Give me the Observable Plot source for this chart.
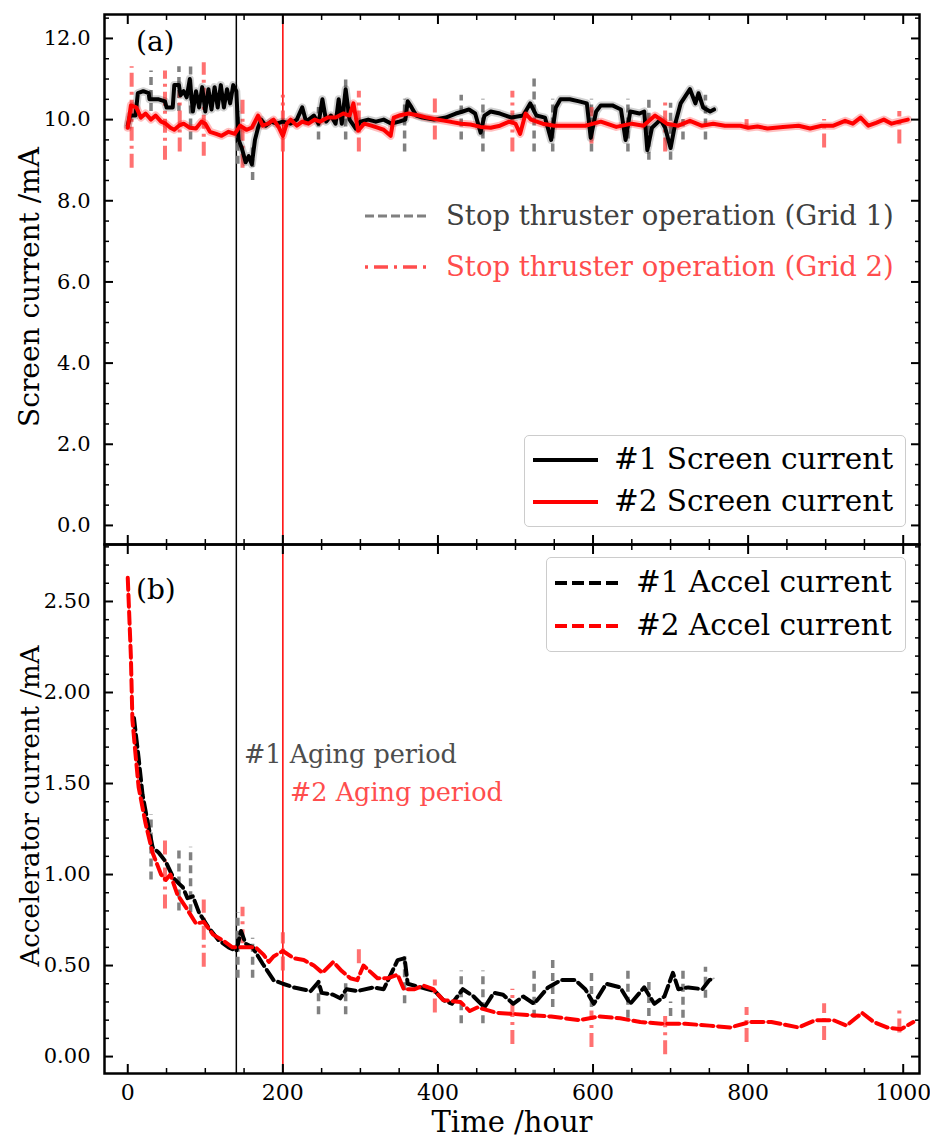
<!DOCTYPE html>
<html><head><meta charset="utf-8">
<script src="https://cdn.jsdelivr.net/npm/d3@7"></script>
<script src="https://cdn.jsdelivr.net/npm/@observablehq/plot@0.6"></script>
<style>
body{margin:0;background:#fff;font-family:"DejaVu Serif",serif;}
#wrap{position:relative;width:930px;height:1137px;overflow:hidden;}
.abs{position:absolute;white-space:nowrap;line-height:1;}
.c{transform:translate(0,-50%);}
.rot{transform:translate(-50%,-50%) rotate(-90deg);}
.box{position:absolute;border:1px solid #cccccc;border-radius:5px;background:rgba(255,255,255,0.85);box-sizing:border-box;}
svg.samp{position:absolute;overflow:visible;}
</style></head><body><div id="wrap"></div>
<script>
// ---------------- data (hours, mA) ----------------
const screen1Time  = [0,3,10,13,20,27,28,40,48,50,58,60,66,68,72,76,80,84,88,92,96,100,104,108,112,116,120,124,128,132,136,140,143,147,152,156,160,164,168,172,178,185,192,200,210,218,225,230,240,246,251,256,262,268,272,276,281,286,294,300,310,320,330,340,350,358,361,366,372,380,395,410,423,432,440,448,455,460,468,480,495,510,519,527,538,546,552,558,570,582,592,597,604,610,625,636,642,648,660,666,670,676,687,693,700,706,713,725,732,736,742,751,756];
const screen1Value = [9.85,10.1,10.1,10.65,10.7,10.65,10.5,10.5,10.45,10.3,10.3,10.85,10.85,10.6,10.7,10.55,11.0,10.2,10.7,10.3,10.8,10.2,10.75,10.25,10.8,10.3,10.85,10.3,10.75,10.4,10.85,10.7,9.5,9.3,8.95,9.1,8.9,9.5,9.8,10.0,9.85,9.95,9.9,9.95,9.9,10.0,10.3,9.95,10.1,9.9,10.5,9.95,10.1,9.9,10.5,9.9,10.75,10.0,9.78,9.95,10.0,9.95,10.0,9.9,9.95,10.0,10.45,10.3,10.1,10.05,10.0,10.05,10.15,10.2,10.25,10.15,9.68,10.1,10.2,10.15,10.05,10.1,10.4,10.1,10.05,9.5,10.3,10.5,10.5,10.45,10.4,9.55,10.2,10.35,10.35,10.25,9.5,10.2,10.15,10.2,9.25,9.8,10.0,9.8,9.3,9.9,10.4,10.75,10.4,10.65,10.3,10.2,10.25];

const screen2Time  = [0,4,11,17,23,30,36,43,49,55,60,66,72,80,88,95,100,106,114,121,130,138,145,153,160,168,174,181,188,195,200,205,210,218,225,233,241,248,258,268,278,286,291,297,305,314,322,330,339,343,350,362,375,386,400,415,430,442,455,468,480,492,500,506,513,520,535,550,570,590,610,630,650,665,680,695,710,725,740,755,770,790,800,812,825,845,865,880,895,910,925,935,945,955,965,975,985,995,1006];
const screen2Value = [9.8,10.35,10.3,10.05,10.15,10.0,10.1,9.95,9.9,9.8,9.75,9.85,9.9,9.8,9.78,9.95,9.9,9.7,9.65,9.6,9.7,9.65,9.85,9.75,9.8,10.1,9.85,9.9,10.0,9.8,9.6,9.9,10.0,9.85,9.95,9.9,10.0,9.95,10.05,10.05,10.15,10.1,10.4,9.73,9.9,9.85,9.8,9.75,9.6,10.05,10.1,10.15,10.1,10.05,10.0,9.95,9.9,9.88,9.82,9.8,9.85,9.95,9.9,9.65,10.15,10.0,9.9,9.85,9.85,9.85,9.95,9.82,9.9,9.85,10.1,9.9,9.85,9.97,9.85,9.9,9.85,9.85,9.8,9.83,9.78,9.82,9.85,9.78,9.85,9.85,9.97,9.9,10.05,9.85,9.92,10.0,9.9,9.95,10.0];

const accel1Time  = [8,14,19,26,32,40,49,59,66,71,77,84,92,104,117,130,140,146,152,161,174,188,200,214,236,246,250,265,274,282,296,317,330,348,357,361,378,396,407,418,432,446,460,472,484,497,510,524,542,559,577,590,601,617,635,648,666,679,692,703,710,723,741,750,756];
const accel1Value = [1.86,1.64,1.44,1.28,1.15,1.12,1.07,0.98,0.95,0.93,0.87,0.88,0.79,0.71,0.64,0.60,0.58,0.69,0.62,0.60,0.51,0.42,0.40,0.38,0.36,0.41,0.35,0.34,0.32,0.37,0.36,0.38,0.37,0.53,0.54,0.40,0.38,0.36,0.31,0.29,0.37,0.33,0.27,0.35,0.34,0.29,0.33,0.29,0.38,0.42,0.42,0.37,0.29,0.40,0.38,0.29,0.38,0.29,0.33,0.46,0.37,0.38,0.37,0.42,0.43];

const accel2Time  = [0,4,6,10,14,23,32,43,49,55,64,75,88,98,110,122,135,148,165,175,182,188,200,214,227,240,251,265,276,287,296,304,322,335,348,356,370,381,394,407,429,441,451,476,511,546,582,608,635,661,688,719,750,777,803,830,865,887,910,927,947,962,979,997,1013];
const accel2Value = [2.63,2.2,1.85,1.66,1.48,1.28,1.12,1.0,0.97,1.0,0.89,0.82,0.73,0.74,0.67,0.64,0.60,0.60,0.60,0.56,0.52,0.55,0.58,0.54,0.53,0.50,0.46,0.52,0.47,0.43,0.42,0.50,0.43,0.43,0.45,0.37,0.37,0.39,0.37,0.31,0.30,0.25,0.27,0.24,0.23,0.22,0.20,0.22,0.21,0.19,0.18,0.18,0.17,0.16,0.19,0.19,0.16,0.20,0.20,0.17,0.24,0.19,0.16,0.15,0.19];

// stop-operation events (grid 1 / grid 2): time, screen low/high, accel low/high
const stop1Time     = [30,66,81,142,161,246,281,357,430,458,524,548,598,645,672,700,716,745];
const stop1ScreenLo = [10.2,10.2,9.5,8.9,8.5,9.5,9.5,9.2,9.5,9.2,9.2,9.2,9.2,9.2,9.0,9.0,9.5,9.5];
const stop1ScreenHi = [11.2,11.3,11.3,10.2,9.3,10.3,11.0,10.5,10.6,10.5,11.0,10.5,10.5,10.5,10.5,10.4,10.0,10.6];
const stop1AccelLo  = [0.97,0.80,0.79,0.43,0.43,0.23,0.23,0.29,0.18,0.18,0.21,0.27,0.27,0.21,0.22,0.22,0.21,0.32];
const stop1AccelHi  = [1.33,1.15,1.15,0.79,0.65,0.43,0.40,0.55,0.47,0.47,0.47,0.55,0.47,0.47,0.41,0.30,0.47,0.49];

const stop2Time     = [5,48,67,98,148,200,298,396,496,598,693,798,898,995];
const stop2ScreenLo = [8.8,9.0,9.2,9.1,8.8,9.2,9.2,9.5,9.2,9.4,9.2,9.8,9.3,9.4];
const stop2ScreenHi = [11.3,11.2,10.7,11.4,10.55,10.6,10.7,10.55,10.7,10.3,10.5,10.0,10.0,10.2];
const stop2AccelLo  = [null,0.81,null,0.49,0.62,0.47,0.51,0.24,0.066,0.05,0.01,0.077,0.088,0.13];
const stop2AccelHi  = [null,1.20,null,0.86,0.82,0.68,0.60,0.42,0.37,0.25,0.22,0.27,0.29,0.25];

const agingStart = [140, 200];   // #1, #2 aging period boundaries (hours)

// ticks
const xMajor = [0,200,400,600,800,1000];
const xMinor = [50,100,150,250,300,350,450,500,550,650,700,750,850,900,950];
const aMajor = [0,2,4,6,8,10,12];
const aMinor = [0.5,1,1.5,2.5,3,3.5,4.5,5,5.5,6.5,7,7.5,8.5,9,9.5,10.5,11,11.5,12.5];
const bMajor = [0,0.5,1,1.5,2,2.5];
const bMinor = [0.1,0.2,0.3,0.4,0.6,0.7,0.8,0.9,1.1,1.2,1.3,1.4,1.6,1.7,1.8,1.9,2.1,2.2,2.3,2.4,2.6,2.7,2.8];

// ---------------- build ----------------
const zip = (t, v) => t.map((d, i) => ({t: d, v: v[i]}));
const screen1 = zip(screen1Time, screen1Value);
const screen2 = zip(screen2Time, screen2Value);
const accel1 = zip(accel1Time, accel1Value);
const accel2 = zip(accel2Time, accel2Value);
const stop1 = stop1Time.map((t, i) => ({t, a0: stop1ScreenLo[i], a1: stop1ScreenHi[i], b0: stop1AccelLo[i], b1: stop1AccelHi[i]}));
const stop2 = stop2Time.map((t, i) => ({t, a0: stop2ScreenLo[i], a1: stop2ScreenHi[i], b0: stop2AccelLo[i], b1: stop2AccelHi[i]}));

const GRAY = "#808080", RED = "#ff0000", LRED = "#ff4d4d";
const FONT = "DejaVu Serif";

function frameAxes(yMajor, yMinor, yFmt, showX) {
  const m = [];
  for (const anchor of ["bottom", "top"]) {
    m.push(Plot.axisX(xMajor, {anchor, tickSize: -9, strokeWidth: 2, fill: "none", label: null}));
    m.push(Plot.axisX(xMinor, {anchor, tickSize: -5, strokeWidth: 1.5, fill: "none", label: null}));
  }
  for (const anchor of ["left", "right"]) {
    m.push(Plot.axisY(yMajor, {anchor, tickSize: -9, strokeWidth: 2, fill: "none", label: null}));
    m.push(Plot.axisY(yMinor, {anchor, tickSize: -5, strokeWidth: 1.5, fill: "none", label: null}));
  }
  if (showX) m.push(Plot.axisX(xMajor, {anchor: "bottom", tickSize: 0, tickPadding: 11, fontSize: 22, fill: "black", label: null, tickFormat: d => String(d)}));
  m.push(Plot.axisY(yMajor, {anchor: "left", tickSize: 0, tickPadding: 14, fontSize: 21, fill: "black", label: null, tickFormat: yFmt}));
  m.push(Plot.frame({stroke: "black", strokeWidth: 2.5}));
  return m;
}

const common = {
  width: 930, marginLeft: 104, marginRight: 11,
  x: {domain: [-30, 1021], label: null},
  style: {background: "transparent", overflow: "visible", fontFamily: FONT, fontSize: "21px"}
};

const plotA = Plot.plot({
  ...common,
  height: 545, marginTop: 14, marginBottom: 1,
  y: {domain: [-0.47, 12.59], label: null},
  marks: [
    Plot.ruleX([agingStart[0]], {stroke: "black", strokeWidth: 1.5}),
    Plot.ruleX([agingStart[1]], {stroke: RED, strokeWidth: 1.5}),
    Plot.ruleX(stop1, {x: "t", y1: "a0", y2: "a1", stroke: GRAY, strokeWidth: 3.5, strokeDasharray: "8,5"}),
    Plot.ruleX(stop2, {x: "t", y1: "a0", y2: "a1", stroke: LRED, strokeOpacity: 0.8, strokeWidth: 4, strokeDasharray: "14,5,3,5"}),
    Plot.line(screen1, {x: "t", y: "v", stroke: "black", strokeOpacity: 0.18, strokeWidth: 8}),
    Plot.line(screen2, {x: "t", y: "v", stroke: RED, strokeOpacity: 0.25, strokeWidth: 8}),
    Plot.line(screen1, {x: "t", y: "v", stroke: "black", strokeWidth: 4}),
    Plot.line(screen2, {x: "t", y: "v", stroke: RED, strokeWidth: 4}),
    ...frameAxes(aMajor, aMinor, d => d.toFixed(1), false)
  ]
});

const plotB = Plot.plot({
  ...common,
  height: 594, marginTop: 1, marginBottom: 64,
  y: {domain: [-0.093, 2.813], label: null},
  marks: [
    Plot.ruleX([agingStart[0]], {stroke: "black", strokeWidth: 1.5}),
    Plot.ruleX([agingStart[1]], {stroke: RED, strokeWidth: 1.5}),
    Plot.ruleX(stop1, {x: "t", y1: "b0", y2: "b1", stroke: GRAY, strokeWidth: 3.5, strokeDasharray: "8,5"}),
    Plot.ruleX(stop2.filter(d => d.b0 != null), {x: "t", y1: "b0", y2: "b1", stroke: LRED, strokeOpacity: 0.8, strokeWidth: 4, strokeDasharray: "14,5,3,5"}),
    Plot.line(accel1, {x: "t", y: "v", stroke: "black", strokeOpacity: 0.35, strokeWidth: 1.5}),
    Plot.line(accel2, {x: "t", y: "v", stroke: RED, strokeOpacity: 0.35, strokeWidth: 1.5}),
    Plot.line(accel1, {x: "t", y: "v", stroke: "black", strokeWidth: 4, strokeDasharray: "12,5"}),
    Plot.line(accel2, {x: "t", y: "v", stroke: RED, strokeWidth: 4, strokeDasharray: "12,5"}),
    ...frameAxes(bMajor, bMinor, d => d.toFixed(2), true)
  ]
});

const wrap = document.getElementById("wrap");
plotA.style.position = "absolute"; plotA.style.left = "0px"; plotA.style.top = "0px";
plotB.style.position = "absolute"; plotB.style.left = "0px"; plotB.style.top = "543px";
wrap.appendChild(plotA);
wrap.appendChild(plotB);

// ---------------- text & legends (HTML) ----------------
function addText(txt, left, top, size, color, cls) {
  const d = document.createElement("div");
  d.className = "abs " + (cls || "c");
  d.style.left = left + "px"; d.style.top = top + "px";
  d.style.fontSize = size + "px"; d.style.color = color;
  d.textContent = txt;
  wrap.appendChild(d);
  return d;
}
function addSample(x1, x2, y, stroke, width, dash) {
  const ns = "http://www.w3.org/2000/svg";
  const s = document.createElementNS(ns, "svg");
  s.setAttribute("class", "samp");
  s.setAttribute("width", x2 - x1); s.setAttribute("height", 10);
  s.style.left = x1 + "px"; s.style.top = (y - 5) + "px";
  const l = document.createElementNS(ns, "line");
  l.setAttribute("x1", 0); l.setAttribute("x2", x2 - x1);
  l.setAttribute("y1", 5); l.setAttribute("y2", 5);
  l.setAttribute("stroke", stroke); l.setAttribute("stroke-width", width);
  if (dash) l.setAttribute("stroke-dasharray", dash);
  s.appendChild(l);
  wrap.appendChild(s);
}
function addBox(left, top, w, h) {
  const b = document.createElement("div");
  b.className = "box";
  b.style.left = left + "px"; b.style.top = top + "px";
  b.style.width = w + "px"; b.style.height = h + "px";
  wrap.appendChild(b);
}

const legendStop = ["Stop thruster operation (Grid 1)", "Stop thruster operation (Grid 2)"];
const legendScreen = ["#1 Screen current", "#2 Screen current"];
const legendAccel = ["#1 Accel current", "#2 Accel current"];
const agingLabels = ["#1 Aging period", "#2 Aging period"];

// legend: stop operation (no frame)
addSample(365, 428, 216, GRAY, 3, "9,4");
addText(legendStop[0], 446, 216, 27.5, "#404040");
addSample(365, 428, 267, LRED, 3.5, "3,6,14,6");
addText(legendStop[1], 446, 267, 27.5, LRED);

// legend: screen current
addBox(524, 435, 382, 92);
addSample(533, 598, 460, "black", 4);
addText(legendScreen[0], 614, 460, 29.5, "black");
addSample(533, 598, 502, RED, 4);
addText(legendScreen[1], 614, 502, 29.5, "black");

// legend: accel current
addBox(546, 557, 360, 95);
addSample(555, 620, 583, "black", 4, "12,5");
addText(legendAccel[0], 636, 583, 29.5, "black");
addSample(555, 620, 626, RED, 4, "12,5");
addText(legendAccel[1], 636, 626, 29.5, "black");

// panel tags and annotations
addText("(a)", 136, 42, 28, "black");
addText("(b)", 136, 590, 28, "black");
addText(agingLabels[0], 244, 755, 25.5, "#4d4d4d");
addText(agingLabels[1], 290, 793, 25.5, LRED);

// axis titles
addText("Screen current /mA", 30, 287, 28, "black", "rot");
addText("Accelerator current /mA", 30, 806, 26, "black", "rot");
const xt = addText("Time /hour", 512, 1122, 29, "black", "rot");
xt.style.transform = "translate(-50%,-50%)";
</script>
</body></html>
